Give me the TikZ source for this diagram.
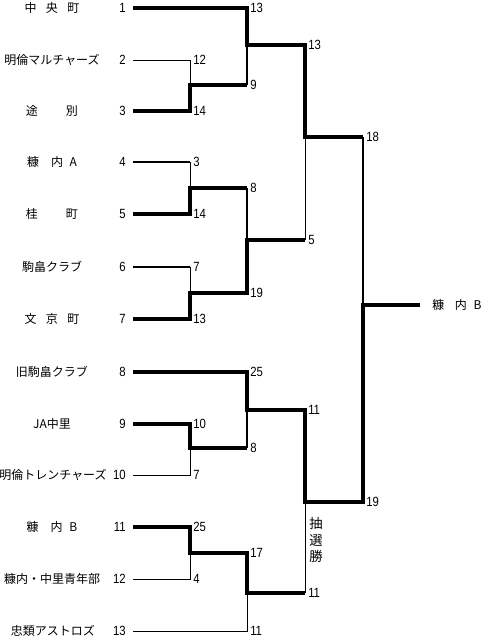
\documentclass[tikz,border=0pt]{standalone}
\usepackage{fontspec}
\newfontfamily\jp{Noto Sans CJK JP}
\newfontfamily\numf[FakeStretch=0.85]{Liberation Sans}
\begin{document}
\begin{tikzpicture}[x=0.75pt,y=-0.75pt,
 teamname/.style={font=\jp\fontsize{9}{10}\selectfont, inner sep=0, anchor=center},
 teamno/.style={font=\numf\fontsize{10}{11}\selectfont, inner sep=0, anchor=east},
 score/.style={font=\numf\fontsize{10}{11}\selectfont, inner sep=0, anchor=west},
 thinln/.style={line width=0.75pt},
 medln/.style={line width=1.5pt},
 thickln/.style={line width=3pt, line join=miter},
]
\useasboundingbox (0,0) rectangle (486,639);

% team names
\node[teamname] (n1)  at (52,8)   {中\hspace{7pt}央\hspace{7pt}町};
\node[teamname] (n2)  at (52,60)  {明倫マルチャーズ};
\node[teamname] (n3)  at (52,111) {途\hspace{21pt}別};
\node[teamname] (n4)  at (52,162) {糠\hspace{9pt}内\hspace{5pt}A};
\node[teamname] (n5)  at (52,214) {桂\hspace{21pt}町};
\node[teamname] (n6)  at (52,267) {駒畠クラブ};
\node[teamname] (n7)  at (52,319) {文\hspace{7pt}京\hspace{7pt}町};
\node[teamname] (n8)  at (52,372) {旧駒畠クラブ};
\node[teamname] (n9)  at (52,424) {JA中里};
\node[teamname] (n10) at (53,475) {明倫トレンチャーズ};
\node[teamname] (n11) at (52,527) {糠\hspace{9pt}内\hspace{5pt}B};
\node[teamname] (n12) at (52,579) {糠内・中里青年部};
\node[teamname] (n13) at (53,631) {忠類アストロズ};

% team numbers
\foreach \i/\y in {1/8,2/60,3/111,4/162,5/214,6/267,7/319,8/372,9/424,10/475,11/527,12/579,13/631}
  \node[teamno] (no\i) at (126,\y) {\i};

% line start coordinates
\foreach \i/\y in {1/8,2/60,3/111,4/162,5/214,6/267,7/319,8/372,9/424,10/475,11/527,12/579,13/631}
  \coordinate (t\i) at (133,\y);

% round 1
\coordinate (a2) at (190,60);  \coordinate (a3) at (190,111); \coordinate (m23) at (190,85);
\coordinate (a4) at (190,162); \coordinate (a5) at (190,214); \coordinate (m45) at (190,188);
\coordinate (a6) at (190,267); \coordinate (a7) at (190,319); \coordinate (m67) at (190,293);
\coordinate (a9) at (190,424); \coordinate (a10) at (190,475); \coordinate (m910) at (190,448);
\coordinate (a11) at (190,527); \coordinate (a12) at (190,579); \coordinate (m1112) at (190,553);
% round 2
\coordinate (b1) at (247,8);   \coordinate (b23) at (247,85);  \coordinate (m1) at (247,45);
\coordinate (b45) at (247,188); \coordinate (b67) at (247,293); \coordinate (m2) at (247,240);
\coordinate (b8) at (247,372); \coordinate (b910) at (247,448); \coordinate (m3) at (247,410);
\coordinate (b1112) at (247,553); \coordinate (b13) at (247,631); \coordinate (m4) at (247,593);
% round 3
\coordinate (c1) at (305,45);  \coordinate (c2) at (305,240); \coordinate (k1) at (305,137);
\coordinate (c3) at (305,410); \coordinate (c4) at (305,593); \coordinate (k2) at (305,502);
% final
\coordinate (d1) at (363,137); \coordinate (d2) at (363,502); \coordinate (f) at (363,305);
\coordinate (e) at (420,305);

% thin lines
\draw[thinln] (t2) -- (a2) -- (m23);
\draw[thinln] (a4) -- (m45);
\draw[thinln] (a6) -- (m67);
\draw[thinln] (t10) -- (a10) -- (m910);
\draw[thinln] (t12) -- (a12) -- (m1112);
\draw[thinln] (t13) -- (b13) -- (m4);
\draw[thinln] (c2) -- (k1);
\draw[thinln] (c4) -- (k2);
% medium lines
\draw[medln] (t4) -- (a4);
\draw[medln] (t6) -- (a6);
\draw[medln] (b23) -- (m1);
\draw[medln] (b45) -- (m2);
\draw[medln] (b910) -- (m3);
\draw[medln] (d1) -- (f);
% thick lines
\draw[thickln] (t1) -- (b1) -- (m1) -- (c1) -- (k1) -- (d1);
\draw[thickln] (t3) -- (a3) -- (m23) -- (b23);
\draw[thickln] (t5) -- (a5) -- (m45) -- (b45);
\draw[thickln] (t7) -- (a7) -- (m67) -- (b67) -- (m2) -- (c2);
\draw[thickln] (t8) -- (b8) -- (m3) -- (c3) -- (k2) -- (d2) -- (f) -- (e);
\draw[thickln] (t9) -- (a9) -- (m910) -- (b910);
\draw[thickln] (t11) -- (a11) -- (m1112) -- (b1112) -- (m4) -- (c4);

% scores round 1
\node[score] (s2)  at (193,60)  {12};
\node[score] (s3)  at (193,111) {14};
\node[score] (s4)  at (193,162) {3};
\node[score] (s5)  at (193,214) {14};
\node[score] (s6)  at (193,267) {7};
\node[score] (s7)  at (193,319) {13};
\node[score] (s9)  at (193,424) {10};
\node[score] (s10) at (193,475) {7};
\node[score] (s11) at (193,527) {25};
\node[score] (s12) at (193,579) {4};
% scores round 2
\node[score] (r1)  at (250,8)   {13};
\node[score] (r23) at (250,85)  {9};
\node[score] (r45) at (250,188) {8};
\node[score] (r67) at (250,293) {19};
\node[score] (r8)  at (250,372) {25};
\node[score] (r910) at (250,448) {8};
\node[score] (r1112) at (250,553) {17};
\node[score] (r13) at (250,631) {11};
% scores round 3
\node[score] (q1) at (308,45)  {13};
\node[score] (q2) at (308,240) {5};
\node[score] (q3) at (308,410) {11};
\node[score] (q4) at (308,593) {11};
% final scores
\node[score] (p1) at (366,137) {18};
\node[score] (p2) at (366,502) {19};

% lottery note
\node[font=\jp\fontsize{10}{12.4}\selectfont, inner sep=0, align=center] (lot) at (316,540) {抽\\選\\勝};

% champion
\node[font=\jp\fontsize{9}{10}\selectfont, inner sep=0, anchor=west] (champ) at (432,305) {糠\hspace{8pt}内\hspace{5pt}B};
\end{tikzpicture}
\end{document}
